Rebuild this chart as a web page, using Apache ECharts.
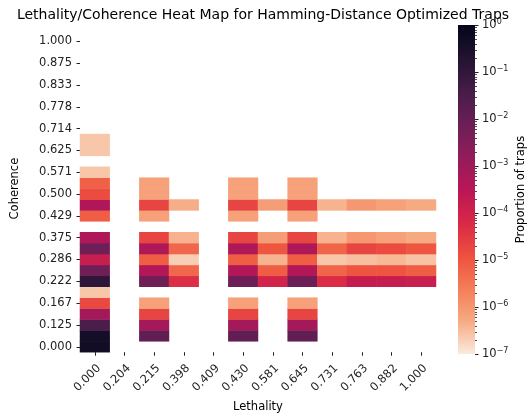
<!DOCTYPE html>
<html>
<head>
<meta charset="utf-8">
<script src="https://cdn.jsdelivr.net/npm/echarts@6/dist/echarts.min.js"></script>
<style>
  html, body { margin: 0; padding: 0; background: #fff; }
  #chart { width: 528px; height: 418px; }
</style>
</head>
<body>
<div id="chart"></div>
<script>
const FONT = 'DejaVu Sans';
const INK = '#222';

// lethality columns (left to right)
const xLabels = ['0.000', '0.204', '0.215', '0.398', '0.409', '0.430', '0.581', '0.645', '0.731', '0.763', '0.882', '1.000'];

// coherence rows, bottom to top; only every other one is labelled in the picture
const yLabels = [
  '0.000', '0.111', '0.125', '0.143', '0.167', '0.200', '0.222', '0.250', '0.286', '0.333',
  '0.375', '0.400', '0.429', '0.444', '0.500', '0.556', '0.571', '0.600', '0.625', '0.667',
  '0.714', '0.750', '0.778', '0.800', '0.833', '0.857', '0.875', '0.889', '1.000', 'NaN'
];

// proportion of traps per cell, indexed by row (bottom = 0), null = no traps
const col000 = [0.45, 0.38, 0.03, 8e-4, 1.7e-5, 2.5e-7, 0.12, 6.8e-3, 1.6e-4, 6.5e-3, 5e-4, null, 8e-6, 4.5e-4, 1.5e-5, 7e-6, 2.5e-7, null, 2.5e-7, 2.5e-7];
const col204 = [];
const col215 = [null, 0.012, 8e-4, 2e-5, 7e-7, null, 7e-3, 4e-4, 8e-6, 5e-4, 2e-5, null, 7e-7, 2e-5, 7e-7, 7e-7];
const col398 = [null, null, null, null, null, null, 5e-5, 5.6e-6, 2e-7, 5.5e-6, 4e-7, null, null, 4.5e-7];
const col409 = [];
const col430 = [null, 0.012, 8e-4, 2e-5, 7e-7, null, 7.5e-3, 4e-4, 8e-6, 5e-4, 2e-5, null, 7e-7, 2e-5, 7e-7, 7e-7];
const col581 = [null, null, null, null, null, null, 9e-5, 8e-6, 4e-7, 1e-5, 8e-7, null, null, 8e-7];
const col645 = [null, 0.012, 8e-4, 2e-5, 7e-7, null, 7.5e-3, 4e-4, 8e-6, 5e-4, 2e-5, null, 7e-7, 2e-5, 7e-7, 7e-7];
const col731 = [null, null, null, null, null, null, 5.5e-5, 6e-6, 2.5e-7, 6e-6, 4e-7, null, null, 4e-7];
const col763 = [null, null, null, null, null, null, 1.8e-4, 1.1e-5, 3e-7, 2e-5, 1e-6, null, null, 1e-6];
const col882 = [null, null, null, null, null, null, 1.7e-4, 1.1e-5, 3.5e-7, 1.5e-5, 7e-7, null, null, 7e-7];
const col1000 = [null, null, null, null, null, null, 1.5e-4, 8e-6, 2.7e-7, 1e-5, 5e-7, null, null, 5e-7];

const columns = [col000, col204, col215, col398, col409, col430, col581, col645, col731, col763, col882, col1000];

// seaborn "rocket", dark -> light
const rocket = ['#03051A', '#221331', '#451C47', '#6A1F56', '#921C5B', '#B91657', '#D92847', '#ED503E', '#F47D57', '#F6AA82', '#FAEBDD'];

const heatData = [];
columns.forEach((col, c) => {
  col.forEach((v, r) => {
    if (v != null) heatData.push([c, r, Math.log10(v)]);
  });
});

const minorTicks = [];
for (let n = -7; n < 0; n++) {
  for (let k = 2; k <= 9; k++) minorTicks.push([0, n + Math.log10(k)]);
}

const chart = echarts.init(document.getElementById('chart'), null, { renderer: 'canvas' });

const tickStyle = { color: INK, width: 1 };

chart.setOption({
  animation: false,
  backgroundColor: '#fff',
  textStyle: { fontFamily: FONT },
  title: {
    text: 'Lethality/Coherence Heat Map for Hamming-Distance Optimized Traps',
    left: 258,
    top: 3,
    textAlign: 'center',
    textStyle: { fontFamily: FONT, fontSize: 14, fontWeight: 'normal', color: '#000' }
  },
  grid: [
    { left: 80, top: 25, width: 356, height: 329 },
    { left: 458, top: 25, width: 17, height: 329 }
  ],
  xAxis: [
    {
      type: 'category',
      gridIndex: 0,
      data: xLabels,
      name: 'Lethality',
      nameLocation: 'middle',
      nameGap: 42,
      nameTextStyle: { fontFamily: FONT, fontSize: 11.5, color: '#000' },
      axisLine: { show: false },
      axisTick: { show: true, alignWithLabel: true, length: 3.5, lineStyle: tickStyle },
      axisLabel: {
        interval: 0, rotate: 45, margin: 10, verticalAlign: 'top',
        fontFamily: FONT, fontSize: 11.5, color: INK
      },
      splitLine: { show: false }
    },
    {
      type: 'category',
      gridIndex: 1,
      data: [''],
      show: false
    }
  ],
  yAxis: [
    {
      type: 'category',
      gridIndex: 0,
      data: yLabels,
      name: 'Coherence',
      nameLocation: 'middle',
      nameRotate: 90,
      nameGap: 59,
      nameTextStyle: { fontFamily: FONT, fontSize: 11.5, color: '#000' },
      axisLine: { show: false },
      axisTick: { show: true, interval: 1, alignWithLabel: true, length: 3.5, lineStyle: tickStyle },
      axisLabel: { interval: 1, margin: 8, fontFamily: FONT, fontSize: 11.5, color: INK },
      splitLine: { show: false }
    },
    {
      type: 'value',
      gridIndex: 1,
      position: 'right',
      min: -7,
      max: 0,
      interval: 1,
      name: 'Proportion of traps',
      nameLocation: 'middle',
      nameRotate: 90,
      nameGap: 40,
      nameTextStyle: { fontFamily: FONT, fontSize: 11.5, color: '#000' },
      axisLine: { show: false },
      axisTick: { show: true, length: 3.5, lineStyle: tickStyle },
      axisLabel: {
        margin: 7,
        formatter: (v) => '{b|10}{s|' + (v === 0 ? '0' : '\u2212' + (-v)) + '}',
        rich: {
          b: { fontFamily: FONT, fontSize: 11.5, color: INK, lineHeight: 15 },
          s: { fontFamily: FONT, fontSize: 8, color: INK, verticalAlign: 'top', lineHeight: 9 }
        }
      },
      splitLine: { show: false }
    }
  ],
  visualMap: {
    show: false,
    type: 'continuous',
    seriesIndex: 0,
    dimension: 2,
    min: -7,
    max: 0,
    inRange: { color: rocket.slice().reverse() }
  },
  series: [
    {
      type: 'heatmap',
      xAxisIndex: 0,
      yAxisIndex: 0,
      data: heatData,
      itemStyle: { borderWidth: 0 },
      emphasis: { disabled: true }
    },
    {
      // colour bar body
      type: 'custom',
      xAxisIndex: 1,
      yAxisIndex: 1,
      silent: true,
      data: [[0, 0]],
      renderItem: (params, api) => {
        const top = api.coord([0, 0]);
        const bottom = api.coord([0, -7]);
        const w = api.size([1, 0])[0];
        return {
          type: 'rect',
          shape: { x: top[0] - w / 2, y: top[1], width: w, height: bottom[1] - top[1] },
          style: {
            fill: new echarts.graphic.LinearGradient(0, 0, 0, 1,
              rocket.map((c, i) => ({ offset: i / (rocket.length - 1), color: c })))
          }
        };
      }
    },
    {
      // log minor ticks on the colour bar
      type: 'custom',
      xAxisIndex: 1,
      yAxisIndex: 1,
      silent: true,
      data: minorTicks,
      renderItem: (params, api) => {
        const p = api.coord([0, api.value(1)]);
        const x = p[0] + api.size([1, 0])[0] / 2;
        return {
          type: 'line',
          shape: { x1: x, y1: Math.round(p[1]) + 0.5, x2: x + 2, y2: Math.round(p[1]) + 0.5 },
          style: { stroke: INK, lineWidth: 0.8 }
        };
      }
    }
  ]
});
</script>
</body>
</html>
